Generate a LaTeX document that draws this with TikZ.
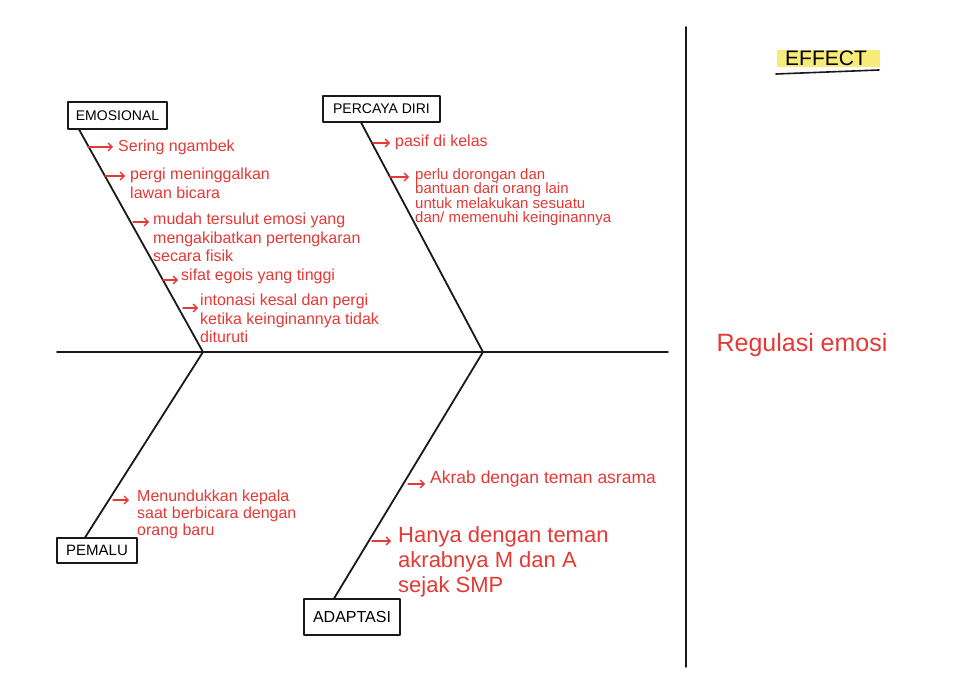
\documentclass[tikz,border=0pt]{standalone}
\usepackage{fontspec}
\setmainfont{Liberation Sans}
\usetikzlibrary{calc,arrows.meta}
\definecolor{ink}{HTML}{E53935}
\definecolor{marker}{HTML}{F7EB7A}
\tikzset{
  catbox/.style={draw=black!90, line width=1.6pt, inner sep=0pt, font=\fontsize{14}{16}\selectfont},
  note/.style={ink, anchor=north west, inner sep=0pt, align=left, font=\fontsize{16}{18.5}\selectfont},
  tick/.style={ink, line width=1.3pt, -{Straight Barb[length=4pt,width=8pt]}},
  bone/.style={black!90, line width=1.8pt}
}
\begin{document}
\begin{tikzpicture}[x=1pt,y=-1pt, line join=round, line cap=round]
\useasboundingbox[fill=white] (0,0) rectangle (975,695);
% spine and divider
\coordinate (tail) at (57,352);
\coordinate (head) at (668,352);
\coordinate (j1) at (203,352);
\coordinate (j2) at (483,352);
\draw[bone] (tail) -- (head);
\draw[bone] (686,27) -- (686,667);
% categories
\node[catbox, minimum width=99, minimum height=27] (emo) at (117.5,115.5) {EMOSIONAL};
\node[catbox, minimum width=117, minimum height=26] (pd) at (381.5,109) {PERCAYA DIRI};
\node[catbox, minimum width=80, minimum height=25, font=\fontsize{15}{17}\selectfont] (pem) at (97,550.5) {PEMALU};
\node[catbox, minimum width=96, minimum height=36, font=\fontsize{16}{18}\selectfont] (ada) at (352,617) {ADAPTASI};
\draw[bone] ([xshift=12pt]emo.south west) -- (j1);
\draw[bone] ([xshift=39pt]pd.south west) -- (j2);
\draw[bone] ([xshift=29pt]pem.north west) -- (j1);
\draw[bone] ([xshift=31pt]ada.north west) -- (j2);
% emosional
\node[note] (s1) at (118,140) {Sering ngambek};
\node[note] (s2) at (130,168) {pergi meninggalkan\\lawan bicara};
\node[note] (s3) at (153,213) {mudah tersulut emosi yang\\mengakibatkan pertengkaran\\secara fisik};
\node[note] (s4) at (181,269) {sifat egois yang tinggi};
\node[note] (s5) at (200,294) {intonasi kesal dan pergi\\ketika keinginannya tidak\\dituruti};
\draw[tick] ([xshift=-30pt,yshift=-7pt]s1.north west) -- ([xshift=-5pt,yshift=-7pt]s1.north west);
\draw[tick] ([xshift=-25pt,yshift=-8pt]s2.north west) -- ([xshift=-5pt,yshift=-8pt]s2.north west);
\draw[tick] ([xshift=-20pt,yshift=-9pt]s3.north west) -- ([xshift=-4pt,yshift=-9pt]s3.north west);
\draw[tick] ([xshift=-18pt,yshift=-11pt]s4.north west) -- ([xshift=-3pt,yshift=-11pt]s4.north west);
\draw[tick] ([xshift=-17pt,yshift=-14pt]s5.north west) -- ([xshift=-2pt,yshift=-14pt]s5.north west);
% percaya diri
\node[note] (p1) at (395,135) {pasif di kelas};
\node[note, font=\fontsize{15}{14.5}\selectfont] (p2) at (415,168) {perlu dorongan dan\\bantuan dari orang lain\\untuk melakukan sesuatu\\dan/ memenuhi keinginannya};
\draw[tick] ([xshift=-22pt,yshift=-8pt]p1.north west) -- ([xshift=-5pt,yshift=-8pt]p1.north west);
\draw[tick] ([xshift=-25pt,yshift=-9pt]p2.north west) -- ([xshift=-6pt,yshift=-9pt]p2.north west);
% pemalu
\node[note, font=\fontsize{16}{17}\selectfont] (m1) at (137,490) {Menundukkan kepala\\saat berbicara dengan\\orang baru};
\draw[tick] ([xshift=-24pt,yshift=-10pt]m1.north west) -- ([xshift=-8pt,yshift=-10pt]m1.north west);
% adaptasi
\node[note, font=\fontsize{17.5}{20}\selectfont] (a1) at (430,471) {Akrab dengan teman asrama};
\node[note, font=\fontsize{22}{25}\selectfont] (a2) at (398,526) {Hanya dengan teman\\akrabnya M dan A\\sejak SMP};
\draw[tick] ([xshift=-22pt,yshift=-13pt]a1.north west) -- ([xshift=-5pt,yshift=-13pt]a1.north west);
\draw[tick] ([xshift=-26pt,yshift=-15pt]a2.north west) -- ([xshift=-7pt,yshift=-15pt]a2.north west);
% effect
\fill[marker] (777,50) rectangle (880,67);
\node[font=\fontsize{21}{23}\selectfont] (eff) at (826,58) {EFFECT};
\draw[black!90, line width=1.6pt] (776,74) -- (879,70);
\node[ink, font=\fontsize{25}{28}\selectfont] (reg) at (802,345) {Regulasi emosi};
\end{tikzpicture}
\end{document}
